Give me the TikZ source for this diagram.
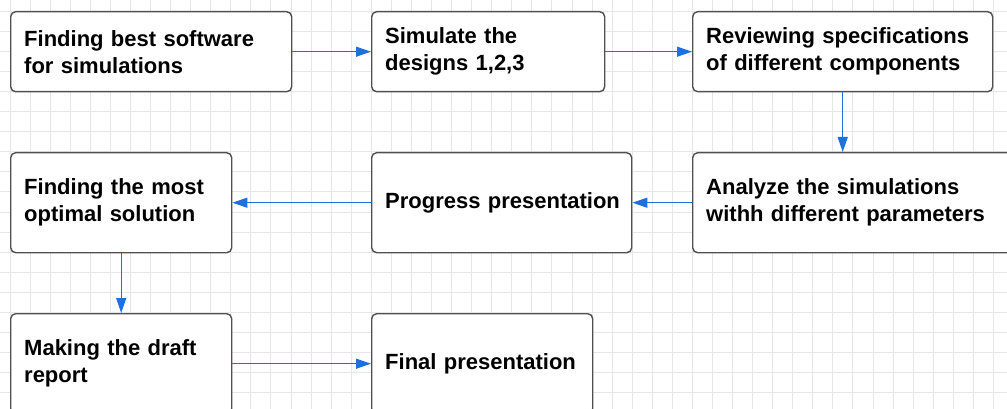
\documentclass[tikz,border=0pt]{standalone}
\usepackage{fontspec}
\setmainfont{Liberation Sans}
\usetikzlibrary{arrows.meta}

\definecolor{gridline}{RGB}{230,230,230}
\definecolor{boxline}{RGB}{80,80,80}
\definecolor{flowblue}{RGB}{30,112,225}

\tikzset{
  stepbox/.style={
    draw=boxline, line width=1.4pt, rounded corners=5pt, fill=white,
    anchor=north west, inner xsep=13.5pt, inner ysep=0pt,
    align=left, font=\fontsize{22}{27}\selectfont\bfseries
  },
  flow/.style={
    draw=flowblue, line width=1.2pt,
    -{Triangle[length=15pt,width=10pt]}
  }
}

\begin{document}
\begin{tikzpicture}[x=1pt,y=-1pt]
  \useasboundingbox (0,0) rectangle (1007,409);
  \clip (0,0) rectangle (1007,409);
  \fill[white] (0,0) rectangle (1007,409);

  % background grid
  \foreach \k in {-1,...,50} {
    \draw[gridline, line width=0.9pt] ({10+20.07*\k},0) -- ({10+20.07*\k},409);
  }
  \foreach \k in {-1,...,20} {
    \draw[gridline, line width=0.9pt] (0,{11+20.1*\k}) -- (1007,{11+20.1*\k});
  }

  % first row
  \node[stepbox, minimum width=281pt, minimum height=80pt, text width=254pt]
    (soft) at (10,11) {Finding best software\\for simulations};
  \node[stepbox, minimum width=233pt, minimum height=80pt, text width=206pt]
    (sim) at (371,11) {Simulate the\\designs 1,2,3};
  \node[stepbox, minimum width=300pt, minimum height=80pt, text width=273pt]
    (spec) at (692,11) {Reviewing specifications\\of different components};

  % second row
  \node[stepbox, minimum width=221pt, minimum height=100pt, text width=194pt]
    (optimal) at (10,152) {Finding the most\\optimal solution};
  \node[stepbox, minimum width=260pt, minimum height=100pt, text width=233pt]
    (progress) at (371,152) {\mbox{Progress presentation}};
  \node[stepbox, minimum width=330pt, minimum height=100pt, text width=303pt]
    (analyze) at (692,152) {Analyze the simulations\\withh different parameters};

  % third row
  \node[stepbox, minimum width=221pt, minimum height=100pt, text width=194pt]
    (draft) at (10,313) {Making the draft\\report};
  \node[stepbox, minimum width=221pt, minimum height=100pt, text width=194pt]
    (final) at (371,313) {Final presentation};

  % connectors
  \draw[flow] (soft.east) -- (sim.west);
  \draw[flow] (sim.east) -- (spec.west);
  \draw[flow] (spec.south) -- (spec.south |- analyze.north);
  \draw[flow] (analyze.west) -- (progress.east);
  \draw[flow] (progress.west) -- (optimal.east);
  \draw[flow] (optimal.south) -- (draft.north);
  \draw[flow] (draft.east) -- (final.west);
\end{tikzpicture}
\end{document}
